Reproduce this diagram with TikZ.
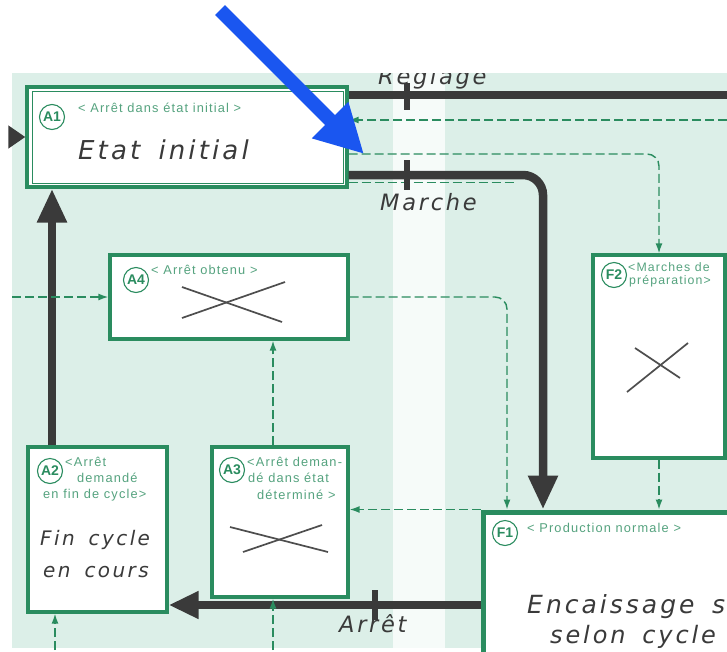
\documentclass[tikz,border=0pt]{standalone}
\usepackage{fontspec}
\setmainfont{Liberation Sans}
\newfontfamily\handfont[LetterSpace=12,WordSpace=1.6]{DejaVu Sans}
\newfontfamily\smallfont[LetterSpace=9]{Liberation Sans}
\usetikzlibrary{arrows.meta,calc}
\definecolor{gr}{HTML}{2A8C5F}
\definecolor{mint}{HTML}{DCEFE8}
\definecolor{strip}{HTML}{F6FBF9}
\definecolor{ink}{HTML}{3A3A3A}
\definecolor{blu}{HTML}{1A56F0}
\begin{document}
\begin{tikzpicture}[x=1pt,y=-1pt,
  box/.style={draw=gr,line width=3.3pt,fill=white,inner sep=0pt},
  tag/.style={circle,draw=gr,line width=1.1pt,minimum size=25pt,inner sep=0pt,text=gr,font=\bfseries\fontsize{14}{14}\selectfont},
  lbl/.style={font=\smallfont\fontsize{12.8}{14}\selectfont,text=gr!80!white,inner sep=0pt,anchor=west},
  slbl/.style={lbl,font=\smallfont\fontsize{12.3}{13}\selectfont},
  hand/.style={font=\handfont\itshape\fontsize{#1}{#1}\selectfont,text=ink,inner sep=0pt,anchor=base west},
  heavy/.style={draw=ink,line width=8.5pt},
  bigtip/.style={-{Triangle[length=34pt,width=28pt]}},
  tick/.style={draw=ink,line width=6pt},
  gdash/.style={draw=gr,line width=1.4pt,dash pattern=on 9pt off 4pt,-{Latex[length=10pt,width=7pt]}},
  cross/.style={draw=ink!90,line width=1.7pt}
]
\useasboundingbox (0,0) rectangle (727,651);
\clip (0,0) rectangle (727,651);
\fill[mint] (12,73) rectangle (740,648);
\fill[strip] (393,73) rectangle (445,648);

% boxes
\node[box,minimum width=320pt,minimum height=100pt] (A1) at (187,137) {};
\draw[gr,line width=1.4pt] ($(A1.north west)+(7,6)$) rectangle ($(A1.south east)+(-5,-5)$);
\node[box,minimum width=238pt,minimum height=84pt] (A4) at (229,297) {};
\node[box,minimum width=139pt,minimum height=165pt] (A2) at (97.5,529.5) {};
\node[box,minimum width=136pt,minimum height=150pt] (A3) at (280,522) {};
\node[box,minimum width=132pt,minimum height=203pt] (F2) at (659,356.5) {};
\node[box,line width=5pt,minimum width=277pt,minimum height=208pt] (F1) at (621.5,616) {};

% tags
\node[tag] (tA1) at (52,117) {A1};
\node[tag] (tA4) at (136,280) {A4};
\node[tag] (tA2) at (50,471) {A2};
\node[tag] (tA3) at (232,470) {A3};
\node[tag] (tF2) at (614,275) {F2};
\node[tag] (tF1) at (505,533) {F1};

% small labels
\node[lbl] (lA1) at (78,108) {< Arrêt dans état initial >};
\node[lbl] (lA4) at (151,270) {< Arrêt obtenu >};
\node[lbl] (lA2a) at (65,462) {<Arrêt};
\node[lbl] (lA2b) at (77,478) {demandé};
\node[lbl] (lA2c) at (43,495) {en fin de cycle>};
\node[lbl] (lA3a) at (247,462) {<Arrêt deman-};
\node[lbl] (lA3b) at (248,478) {dé dans état};
\node[lbl] (lA3c) at (257,495) {déterminé >};
\node[slbl] (lF2a) at (628,267) {<Marches de};
\node[slbl] (lF2b) at (629,281) {préparation>};
\node[lbl] (lF1) at (527,528) {< Production normale >};

% main texts
\node[hand=26] (mA1) at (78,159) {Etat initial};
\node[hand=20] (mA2a) at (40,545) {Fin cycle};
\node[hand=20] (mA2b) at (43,577) {en cours};
\node[hand=25] (mF1a) at (527,613) {Encaissage s};
\node[hand=24] (mF1b) at (550,643) {selon cycle};
\node[hand=22.5] (tReg) at (378,84) {Réglage};
\node[hand=22.5] (tMar) at (380,210) {Marche};
\node[hand=22.5] (tArr) at (339,632) {Arrêt};

% crosses
\draw[cross] (182,318) -- (285,282);
\draw[cross] (182,287) -- (282,322);
\draw[cross] (230,527) -- (328,552);
\draw[cross] (243,552) -- (322,525);
\draw[cross] (627,392) -- (688,343);
\draw[cross] (635,348) -- (680,378);

% coordinates
\coordinate (regR) at (740,95);
\coordinate (inR) at (740,120);
\coordinate (o1) at (0,154);
\coordinate (m1) at (0,175);
\coordinate (g2) at (517,182);
\coordinate (mx) at (543,0);
\coordinate (lin) at (12,137);
\coordinate (ax) at (52,0);
\coordinate (a4in) at (12,297);
\coordinate (bx) at (507,0);
\coordinate (cx) at (273,0);
\coordinate (ay) at (0,605);
\coordinate (dx) at (55,0);
\coordinate (bA2) at (55,650);
\coordinate (bA3) at (273,650);

% connectors
\draw[heavy] (A1.east |- regR) -- (regR);
\draw[tick] (407,83) -- (407,110);
\draw[gdash] (inR) -- (A1.east |- inR);
\draw[gdash,rounded corners=12pt] (A1.east |- o1) -- (F2.north |- o1) -- (F2.north);
\draw[gr,line width=0.9pt,dash pattern=on 9pt off 4pt] (A1.east |- g2) -- (g2);
\draw[heavy,bigtip,rounded corners=20pt] (A1.east |- m1) -- (mx |- m1) -- (F1.north -| mx);
\draw[tick] (407,160) -- (407,190);
\draw[heavy,-{Triangle[length=17pt,width=22pt]}] (lin) -- (A1.west);
\draw[heavy,bigtip] (A2.north -| ax) -- (A1.south -| ax);
\draw[gdash] (a4in) -- (A4.west);
\draw[gdash,rounded corners=12pt] (A4.east) -- (A4.east -| bx) -- (F1.north -| bx);
\draw[gdash] (A3.north -| cx) -- (A4.south -| cx);
\draw[gdash] (F1.north west) -- (A3.east |- F1.north west);
\draw[heavy,-{Triangle[length=30pt,width=26pt]}] (F1.west |- ay) -- (A2.east |- ay);
\draw[tick] (375,590) -- (375,620);
\draw[gdash] (F2.south) -- (F1.north -| F2.south);
\draw[gdash] (bA2) -- (A2.south -| dx);
\draw[gdash] (bA3) -- (A3.south -| cx);

% top cover and blue arrow
\fill[white] (0,0) rectangle (727,73);
\coordinate (bs) at (220,10);
\coordinate (bt) at (364,154);
\draw[blu,line width=14pt,-{Triangle[length=48pt,width=48pt]}] (bs) -- (bt);
\end{tikzpicture}
\end{document}
